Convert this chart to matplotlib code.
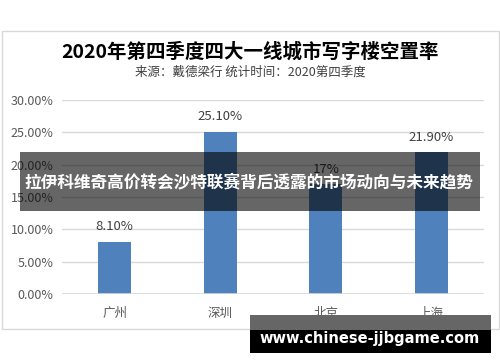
import matplotlib
matplotlib.use('agg')
import matplotlib.pyplot as plt
from matplotlib.patches import Rectangle

plt.rcParams['font.family'] = ['Noto Sans CJK SC', 'DejaVu Sans']

cities = ['广州', '深圳', '北京', '上海']
rates = [8.10, 25.10, 17.0, 21.90]
rate_labels = ['8.10%', '25.10%', '17%', '21.90%']
yticks = [0, 5, 10, 15, 20, 25, 30]
title = '2020年第四季度四大一线城市写字楼空置率'
subtitle = '来源：戴德梁行 统计时间：2020第四季度'
banner = '拉伊科维奇高价转会沙特联赛背后透露的市场动向与未来趋势'
watermark = 'www.chinese-jjbgame.com'

W, H = 500, 362
fig = plt.figure(figsize=(W / 100, H / 100), dpi=100)
fig.patch.set_facecolor('white')

# main chart
ax = fig.add_axes([62 / W, 68 / H, 422 / W, 194 / H])
x = range(len(cities))
ax.bar(x, rates, width=0.31, color='#4f81bd', zorder=3)
for i, (v, lab) in enumerate(zip(rates, rate_labels)):
    ax.annotate(lab, (i, v), xytext=(0, 6), textcoords='offset points',
                ha='center', va='bottom', fontsize=9.5, color='#404040')
ax.set_xlim(-0.5, len(cities) - 0.5)
ax.set_ylim(0, 30)
ax.set_yticks(yticks)
ax.set_yticklabels([f'{t:.2f}%' for t in yticks], fontsize=9, color='#595959')
ax.set_xticks(list(x))
ax.set_xticklabels(cities, fontsize=9, color='#595959')
ax.tick_params(axis='both', length=0)
ax.tick_params(axis='x', pad=9)
ax.tick_params(axis='y', pad=6)
ax.grid(axis='y', color='#d9d9d9', linewidth=1, zorder=0)
for s in ax.spines.values():
    s.set_visible(False)
ax.axhline(0, color='#d9d9d9', linewidth=1.2, zorder=4)

# overlay in pixel coordinates
ov = fig.add_axes([0, 0, 1, 1], zorder=10)
ov.set_xlim(0, W)
ov.set_ylim(H, 0)
ov.axis('off')
ov.patch.set_alpha(0)

ov.add_patch(Rectangle((1.5, 31), 497.5, 298, fill=False, edgecolor='#d9d9d9', linewidth=1))
ov.text(250, 52, title, ha='center', va='center', fontsize=14, fontweight='bold', color='black')
ov.text(250, 72, subtitle, ha='center', va='center', fontsize=9, color='#404040')

ov.add_patch(Rectangle((20, 152), 460, 59, facecolor='black', alpha=0.6, edgecolor='none'))
ov.text(249, 182, banner, ha='center', va='center', fontsize=12, fontweight='bold', color='white')

ov.add_patch(Rectangle((250, 315), 241, 15, facecolor='#666666', edgecolor='none'))
ov.add_patch(Rectangle((250, 330), 241, 23, facecolor='black', edgecolor='none'))
ov.text(370, 338, watermark, ha='center', va='center', fontsize=10.5, fontweight='bold',
        color='white', family=['DejaVu Sans'])

fig.savefig('out.png', dpi=100)
